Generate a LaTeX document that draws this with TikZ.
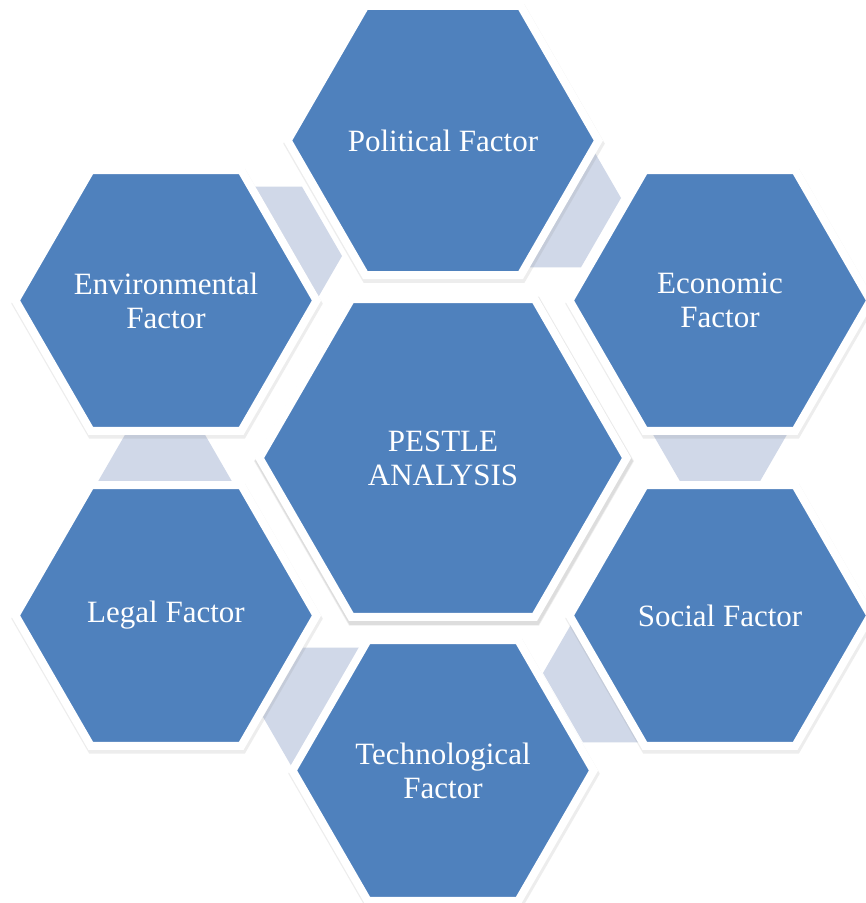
\documentclass[tikz,border=0pt]{standalone}
\usepackage{fontspec}
\setmainfont{Liberation Serif}
\usetikzlibrary{shapes.geometric,shadows}
\definecolor{hexblue}{HTML}{4F81BD}
\definecolor{linkgray}{HTML}{D0D8E8}
\begin{document}
\begin{tikzpicture}[x=1pt,y=-1pt,
  hexbase/.style={regular polygon, regular polygon sides=6,
    inner sep=0pt, outer sep=0pt},
  factor/.style={hexbase, minimum size=301pt, fill=hexblue, draw=white, line width=8pt,
    text=white, align=center, font=\fontsize{31}{34}\selectfont,
    drop shadow={opacity=0.14, shadow scale=1.035, shadow xshift=1pt, shadow yshift=-3pt}},
  core/.style={factor, minimum size=367pt,
    drop shadow={opacity=0.14, shadow scale=1.03, shadow xshift=1pt, shadow yshift=-3pt}},
  link/.style={hexbase, minimum size=160pt, fill=linkgray}]
\useasboundingbox (0,0) rectangle (866,903);
\fill[white] (0,0) rectangle (866,903);
% connecting bands
\node[link] (l1) at (262,256) {};
\node[link] (l2) at (541,198) {};
\node[link] (l3) at (720,412) {};
\node[link] (l4) at (623,673) {};
\node[link] (l5) at (343,717) {};
\node[link] (l6) at (165,504) {};
% factors
\node[factor] (pol) at (443,140.5) {Political Factor};
\node[factor] (eco) at (720,300.5) {Economic\\Factor};
\node[factor] (soc) at (720,615.5) {Social Factor};
\node[factor] (tec) at (443,770.5) {Technological\\Factor};
\node[factor] (leg) at (166,615.5) {Legal Factor};
\node[factor] (env) at (166,300.5) {Environmental\\Factor};
% center
\node[core] (core) at (443,458) {PESTLE\\ANALYSIS};
\end{tikzpicture}
\end{document}
